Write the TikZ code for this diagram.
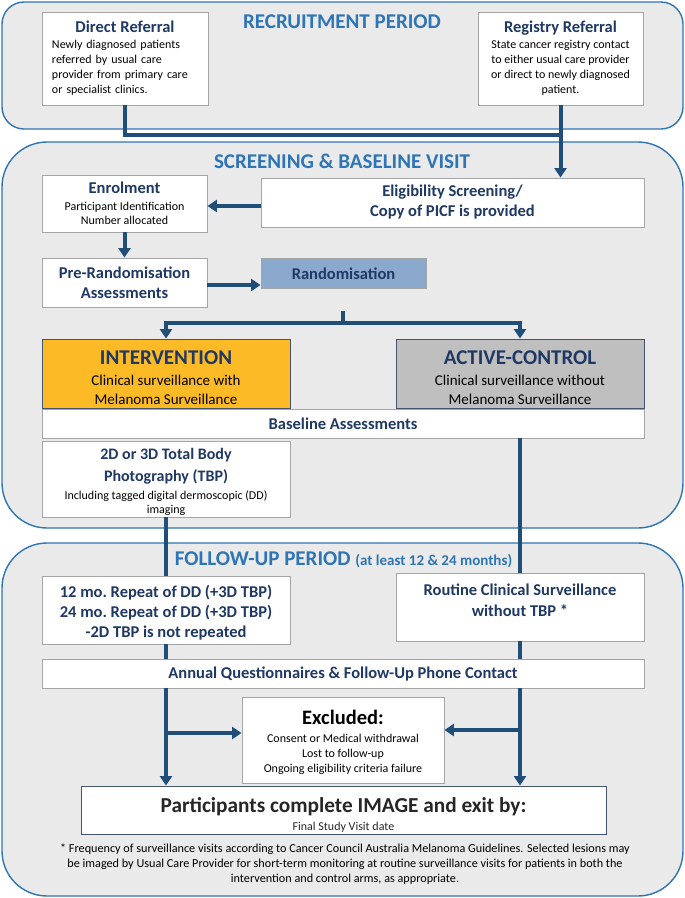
\documentclass[tikz,border=0pt]{standalone}
\usepackage{fontspec}
\setmainfont{Carlito}
\usetikzlibrary{arrows.meta}
\definecolor{panelblue}{RGB}{46,117,182}
\definecolor{panelfill}{RGB}{234,234,234}
\definecolor{connblue}{RGB}{31,78,121}
\definecolor{navy}{RGB}{31,56,100}
\definecolor{boxgray}{RGB}{165,165,165}
\definecolor{randfill}{RGB}{139,169,204}
\definecolor{intfill}{RGB}{251,186,38}
\definecolor{actfill}{RGB}{191,191,191}
\definecolor{darkborder}{RGB}{68,84,106}
\definecolor{darktext}{RGB}{38,38,38}
\newcommand\fsz[2]{\fontsize{#1}{#2}\selectfont}
\newcommand\ttl{\fsz{16.5}{19}\bfseries\color{navy}}
\newcommand\bigttl{\fsz{21}{24}\bfseries\color{navy}}
\newcommand\pttl{\fsz{21}{24}\bfseries\color{panelblue}}
\begin{document}
\begin{tikzpicture}[x=1pt,y=-1pt,
  panel/.style={draw=panelblue, line width=1.4pt, fill=panelfill},
  box/.style={draw=boxgray, line width=0.9pt, fill=white, inner sep=0pt, align=center},
  txt/.style={inner sep=0pt, align=center},
  conn/.style={draw=connblue, line width=4pt, line join=miter},
  arr/.style={conn, -{Triangle[width=12pt,length=9.5pt]}},
]
\useasboundingbox (0,0) rectangle (685,898);
% panels
\path[panel, rounded corners=22pt] (2,2) rectangle (683,129);
\path[panel, rounded corners=45pt] (2,142) rectangle (683,528);
\path[panel, rounded corners=45pt] (2,543) rectangle (683,896);

% panel titles
\node[txt] (t1) at (342,22) {\pttl RECRUITMENT PERIOD};
\node[txt] (t2) at (342,161) {\pttl SCREENING \& BASELINE VISIT};

% recruitment
\node[box, minimum width=166pt, minimum height=93pt, text width=146pt, align=left, font=\fsz{12}{15}] (direct) at (125,58.5)
 {\makebox[146pt][c]{\ttl Direct Referral}\\[1pt]Newly diagnosed patients\\referred by usual care\\provider from primary care\\or specialist clinics.};
\node[box, minimum width=165pt, minimum height=93pt, font=\fsz{12}{15}] (registry) at (560.5,58.5)
 {{\ttl Registry Referral}\\[1pt]State cancer registry contact\\to either usual care provider\\or direct to newly diagnosed\\patient.};

% screening
\node[box, minimum width=165pt, minimum height=57pt, font=\fsz{12}{14.5}] (enrol) at (124.5,203.5)
 {{\ttl Enrolment}\\[2pt]Participant Identification\\Number allocated};
\node[box, minimum width=383pt, minimum height=49pt, font=\fsz{16.5}{20}\bfseries\color{navy}] (elig) at (452.5,202.5)
 {Eligibility Screening/\\Copy of PICF is provided};
\node[box, minimum width=165pt, minimum height=49pt, font=\fsz{16.5}{20}\bfseries\color{navy}] (prerand) at (124.5,282.5)
 {Pre-Randomisation\\Assessments};
\node[box, fill=randfill, minimum width=165pt, minimum height=30pt, font=\ttl] (rand) at (343.5,273.5)
 {Randomisation};
\node[box, draw=darkborder, fill=intfill, minimum width=248pt, minimum height=69pt] (interv) at (166,373.5) {};
\node[txt, font=\fsz{15}{18.5}] (intervt) at (166,377.5)
 {{\bigttl INTERVENTION}\\[3pt]Clinical surveillance with\\Melanoma Surveillance};
\node[box, draw=darkborder, fill=actfill, minimum width=248pt, minimum height=69pt] (active) at (520,373.5) {};
\node[txt, font=\fsz{15}{18.5}] (activet) at (520,377.5)
 {{\bigttl ACTIVE-CONTROL}\\[3pt]Clinical surveillance without\\Melanoma Surveillance};
\node[box, minimum width=602pt, minimum height=29pt, font=\ttl] (baseline) at (343,423.5)
 {Baseline Assessments};
\node[box, minimum width=248pt, minimum height=76pt] (tbp) at (166,479) {};
\node[txt, font=\fsz{12}{14}] (tbpt) at (166,482)
 {{\fsz{16}{20}\bfseries\color{navy}2D or 3D Total Body}\\[6pt]{\fsz{16}{20}\bfseries\color{navy}Photography (TBP)}\\[4pt]Including tagged digital dermoscopic (DD)\\imaging};

% follow-up
\node[txt] (t3) at (343.5,560) {\pttl FOLLOW-UP PERIOD {\fsz{15}{18}(at least 12 \& 24 months)}};
\node[box, minimum width=248pt, minimum height=68pt] (rep) at (166,610) {};
\node[txt, font=\fsz{16.5}{20}\bfseries\color{navy}] (rept) at (166,613)
 {12 mo.\ Repeat of DD (+3D TBP)\\24 mo.\ Repeat of DD (+3D TBP)\\-2D TBP is not repeated};
\node[box, minimum width=248pt, minimum height=68pt] (routine) at (520,607) {};
\node[txt, font=\fsz{16.5}{21}\bfseries\color{navy}] (routinet) at (520,600.5)
 {Routine Clinical Surveillance\\without TBP *};
\node[box, minimum width=602pt, minimum height=29pt, font=\ttl] (annual) at (343,673.5)
 {Annual Questionnaires \& Follow-Up Phone Contact};
\node[box, minimum width=202pt, minimum height=86pt] (excl) at (343,740) {};
\node[txt, font=\fsz{12}{15}] (exclt) at (343,742)
 {{\fsz{20.5}{24}\bfseries Excluded:}\\[3pt]Consent or Medical withdrawal\\Lost to follow-up\\Ongoing eligibility criteria failure};
\node[box, draw=darkborder, minimum width=525pt, minimum height=48pt] (part) at (343.5,810) {};
\node[txt, font=\fsz{12}{14}\color{darktext}] (partt) at (343.5,815)
 {{\fsz{21.3}{25}\bfseries Participants complete IMAGE and exit by:}\\[4pt]Final Study Visit date};
\node[txt, font=\fsz{12.2}{15}] (foot) at (345,864)
 {* Frequency of surveillance visits according to Cancer Council Australia Melanoma Guidelines. Selected lesions may\\
  be imaged by Usual Care Provider for short-term monitoring at routine surveillance visits for patients in both the\\
  intervention and control arms, as appropriate.};

% connectors
\coordinate (j1) at (560,135);
\draw[conn] (direct.south) |- (j1);
\draw[arr] (registry.south) -- (registry.south |- elig.north);
\draw[arr] (elig.west |- 0,206) -- (enrol.east |- 0,206);
\draw[arr] (enrol.south) -- (prerand.north);
\draw[arr] (prerand.east |- 0,285) -- (rand.west |- 0,285);
\coordinate (rs) at (343,311);
\coordinate (br) at (343,323);
\draw[conn] (rs) -- (br);
\draw[arr] (br) -| (interv.north);
\draw[arr] (br) -| (active.north);
% left arm
\draw[conn] (tbp.south) -- (rep.north);
\draw[conn] (rep.south) -- (annual.north -| rep.south);
\draw[arr] (annual.south -| rep.south) -- (part.north -| rep.south);
% right arm
\draw[conn] (baseline.south -| active.south) -- (routine.north);
\draw[conn] (routine.south) -- (annual.north -| routine.south);
\draw[arr] (annual.south -| routine.south) -- (part.north -| routine.south);
% excluded
\draw[arr] (rep.south |- 0,733) -- (excl.west |- 0,733);
\draw[arr] (routine.south |- 0,730) -- (excl.east |- 0,730);
\end{tikzpicture}
\end{document}
